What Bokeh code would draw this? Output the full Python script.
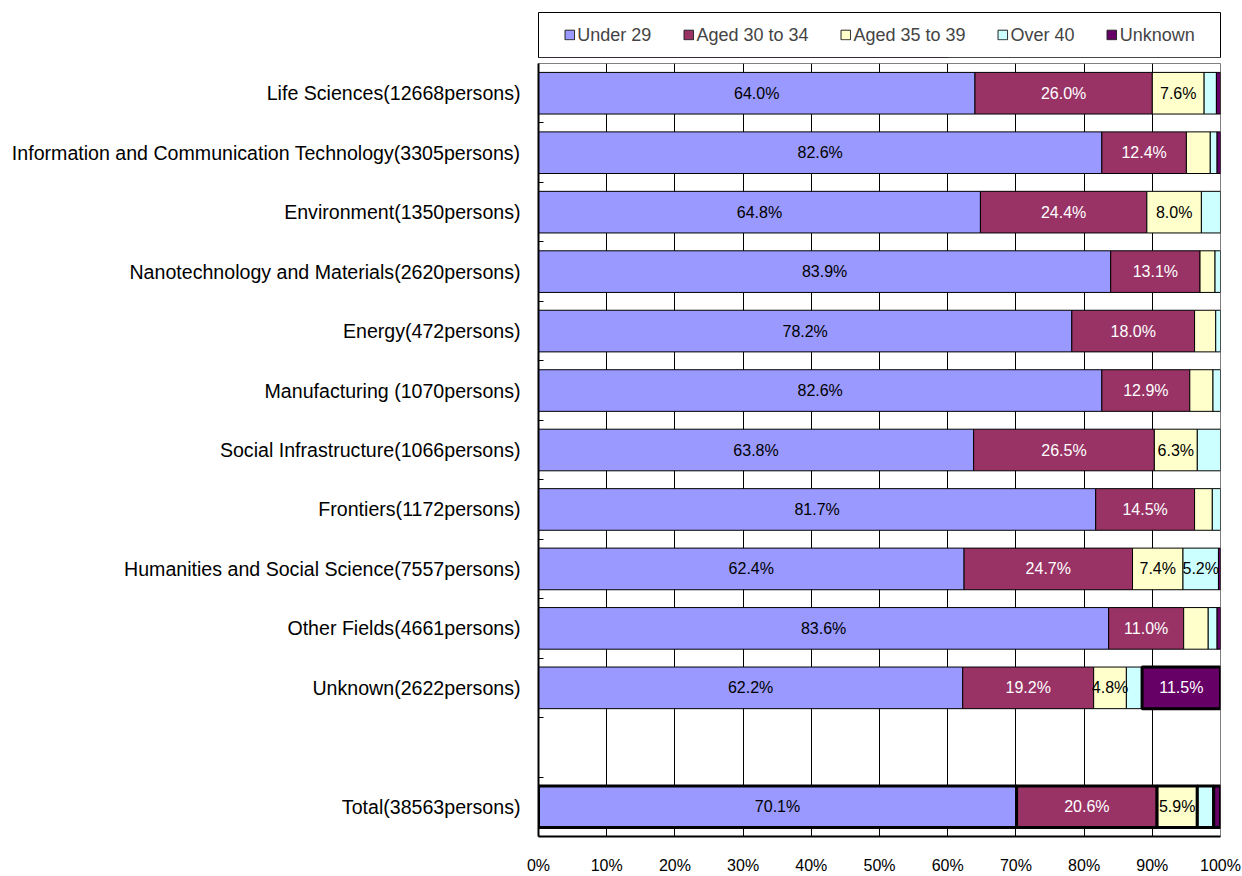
from bokeh.plotting import figure
from bokeh.layouts import column
from bokeh.models import ColumnDataSource, Range1d, FixedTicker, Legend, LegendItem
from bokeh.core.properties import value
from bokeh.embed import file_html
from bokeh.resources import INLINE

categories = [
    "Life Sciences(12668persons)",
    "Information and Communication Technology(3305persons)",
    "Environment(1350persons)",
    "Nanotechnology and Materials(2620persons)",
    "Energy(472persons)",
    "Manufacturing (1070persons)",
    "Social Infrastructure(1066persons)",
    "Frontiers(1172persons)",
    "Humanities and Social Science(7557persons)",
    "Other Fields(4661persons)",
    "Unknown(2622persons)",
    "Total(38563persons)",
]
series_names = ["Under 29", "Aged 30 to 34", "Aged 35 to 39", "Over 40", "Unknown"]
under29 = [64.0, 82.6, 64.8, 83.9, 78.2, 82.6, 63.8, 81.7, 62.4, 83.6, 62.2, 70.1]
aged30_34 = [26.0, 12.4, 24.4, 13.1, 18.0, 12.9, 26.5, 14.5, 24.7, 11.0, 19.2, 20.6]
aged35_39 = [7.6, 3.5, 8.0, 2.2, 3.1, 3.4, 6.3, 2.6, 7.4, 3.6, 4.8, 5.9]
over40 = [1.8, 1.0, 2.8, 0.8, 0.7, 1.1, 3.4, 1.2, 5.2, 1.3, 2.3, 2.4]
unknown = [0.6, 0.5, 0.0, 0.0, 0.0, 0.0, 0.0, 0.0, 0.3, 0.5, 11.5, 1.0]
x_ticks = [0, 10, 20, 30, 40, 50, 60, 70, 80, 90, 100]
x_tick_labels = ["0%", "10%", "20%", "30%", "40%", "50%", "60%", "70%", "80%", "90%", "100%"]

series_values = [under29, aged30_34, aged35_39, over40, unknown]
colors = ["#9999FF", "#993366", "#FFFFCC", "#CCFFFF", "#660066"]
text_colors = ["black", "white", "black", "black", "white"]
FONT = "Liberation Sans"

# slot layout: 11 fields, one empty slot, then Total
n_slots = len(categories) + 1
slot_of = list(range(len(categories) - 1)) + [len(categories)]
centers = [s + 0.5 for s in slot_of]

W = 1242
LEFT, RIGHT = 538, 22

# ---------------- legend strip ----------------
pl = figure(width=W, height=62, output_backend="svg", toolbar_location=None,
            x_range=Range1d(0, 1), y_range=Range1d(0, 1),
            min_border_left=LEFT, min_border_right=RIGHT, min_border_top=12,
            min_border_bottom=5, x_axis_location=None, y_axis_location=None)
pl.grid.visible = False
pl.outline_line_color = "black"
pl.outline_line_width = 1
proxies = []
for si, name in enumerate(series_names):
    # legend proxy: a single swatch kept outside the visible range of this strip
    src = ColumnDataSource(dict(y=[-5.0], left=[0.0], right=[series_values[si][0]]))
    proxies.append(pl.hbar(y="y", left="left", right="right", height=0.5, source=src,
                           fill_color=colors[si], line_color="#222222", line_width=1))
legend = Legend(items=[LegendItem(label=n, renderers=[r], index=0) for n, r in zip(series_names, proxies)],
                orientation="horizontal", location="center",
                glyph_width=12, glyph_height=12, label_standoff=2, spacing=31,
                padding=0, margin=0, border_line_alpha=0,
                label_text_font=FONT, label_text_font_size="18px",
                background_fill_alpha=0)
pl.add_layout(legend, "center")

# ---------------- main chart ----------------
H = 814
TOP, BOTTOM = 1, 39
p = figure(width=W, height=H, output_backend="svg", toolbar_location=None,
           x_range=Range1d(0, 100), y_range=Range1d(n_slots, 0),
           min_border_left=LEFT, min_border_right=RIGHT, min_border_top=TOP,
           min_border_bottom=BOTTOM)

p.background_fill_color = "white"
p.outline_line_color = "#808080"
p.outline_line_width = 1

left = [0.0] * len(categories)
renderers = []
lab_x, lab_y, lab_t, lab_c = [], [], [], []
for si, (name, vals) in enumerate(zip(series_names, series_values)):
    ys, ls, rs, lws = [], [], [], []
    for ri, v in enumerate(vals):
        l = left[ri]
        r = l + v
        left[ri] = r
        if v <= 0:
            continue
        is_total = ri == len(categories) - 1
        is_unknown_row_unknown = (ri == len(categories) - 2 and si == len(series_names) - 1)
        ys.append(centers[ri])
        ls.append(l)
        rs.append(r)
        lws.append(3 if (is_total or is_unknown_row_unknown) else 1)
        if v >= 4.5:
            lab_x.append((l + r) / 2)
            lab_y.append(centers[ri])
            lab_t.append(f"{v:.1f}%")
            lab_c.append(text_colors[si])
    src = ColumnDataSource(dict(y=ys, left=ls, right=rs, lw=lws))
    rr = p.hbar(y="y", left="left", right="right", height=0.7, source=src,
                fill_color=colors[si], line_color="black", line_width="lw")
    renderers.append(rr)

lsrc = ColumnDataSource(dict(x=lab_x, y=lab_y, t=lab_t, c=lab_c))
p.text(x="x", y="y", text="t", source=lsrc, text_color="c",
       text_align="center", text_baseline="middle",
       text_font=value(FONT), text_font_size="16px")

# grid
p.ygrid.visible = False
p.xgrid.ticker = FixedTicker(ticks=x_ticks[1:-1])
p.xgrid.grid_line_color = "black"
p.xgrid.grid_line_width = 1

# x axis
p.xaxis.ticker = FixedTicker(ticks=x_ticks)
p.xaxis.major_label_overrides = {t: s for t, s in zip(x_ticks, x_tick_labels)}
p.xaxis.major_tick_out = 0
p.xaxis.major_tick_in = 0
p.xaxis.minor_tick_out = 0
p.xaxis.minor_tick_in = 0
p.xaxis.axis_line_color = "black"
p.xaxis.axis_line_width = 2
p.xaxis.major_label_standoff = 20
p.xaxis.major_label_text_font = FONT
p.xaxis.major_label_text_font_size = "16px"
p.xaxis.major_label_text_color = "black"

# y axis
p.yaxis.ticker = FixedTicker(ticks=centers, minor_ticks=list(range(1, n_slots)))
p.yaxis.major_label_overrides = {c: name for c, name in zip(centers, categories)}
p.yaxis.major_tick_out = 0
p.yaxis.major_tick_in = 0
p.yaxis.minor_tick_out = 0
p.yaxis.minor_tick_in = 5
p.yaxis.minor_tick_line_color = "black"
p.yaxis.axis_line_color = "black"
p.yaxis.axis_line_width = 2
p.yaxis.major_label_standoff = 18
p.yaxis.major_label_text_font = FONT
p.yaxis.major_label_text_font_size = "19.6px"
p.yaxis.major_label_text_color = "black"

layout = column(pl, p, spacing=0)
open("out.html", "w").write(file_html(layout, INLINE))
